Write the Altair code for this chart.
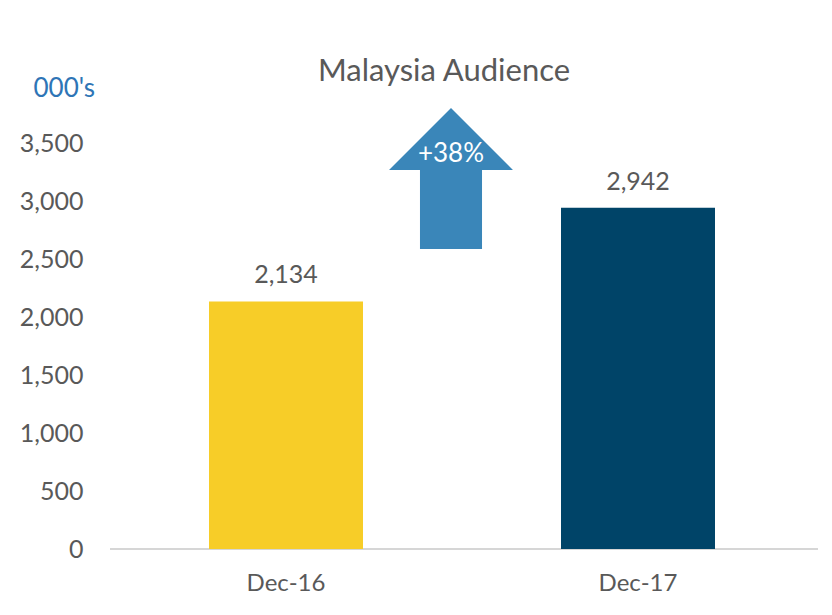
import altair as alt
import pandas as pd

periods = ["Dec-16", "Dec-17"]
audience = [2134, 2942]
bar_colors = ["#F7CD28", "#004468"]
y_ticks = [0, 500, 1000, 1500, 2000, 2500, 3000, 3500]
chart_title = "Malaysia Audience"
unit_label = "000's"

growth = audience[1] / audience[0] - 1
growth_label = f"+{growth:.0%}"

df = pd.DataFrame({"period": periods, "audience": audience, "color": bar_colors})
ann = pd.DataFrame({"label": [growth_label]})

FONT = "Lato"
GRAY = "#595959"

x_enc = alt.X(
    "period:N",
    sort=periods,
    scale=alt.Scale(range=[0, 704], paddingInner=0.5625, paddingOuter=0.28125),
    axis=alt.Axis(title=None, labelAngle=0, domain=False, ticks=False,
                  labelFont=FONT, labelFontSize=24, labelColor=GRAY, labelPadding=22),
)
y_enc = alt.Y(
    "audience:Q",
    scale=alt.Scale(domain=[0, 4000], nice=False),
    axis=alt.Axis(values=y_ticks, format=",.0f", domain=False, ticks=False, grid=False,
                  labelPadding=27, labelFont=FONT, labelFontSize=25, labelColor=GRAY,
                  title=unit_label, titleAngle=0, titleAlign="left", titleBaseline="alphabetic",
                  titleX=-77, titleY=11, titleColor="#2E75B6", titleFont=FONT,
                  titleFontSize=26, titleFontWeight="normal"),
)

base = alt.Chart(df)
bars = base.mark_bar().encode(x=x_enc, y=y_enc, color=alt.Color("color:N", scale=None))
labels = base.mark_text(dy=-18, baseline="alphabetic", font=FONT, fontSize=25, color=GRAY).encode(
    x=alt.X("period:N", sort=periods), y="audience:Q", text=alt.Text("audience:Q", format=",.0f")
)
baseline = alt.Chart(ann).mark_rule(color="#C8C8C8", strokeWidth=1.5).encode(y=alt.datum(0))

arrow_path = "M0,-1 L0.879,-0.121 L0.44,-0.121 L0.44,1 L-0.44,1 L-0.44,-0.121 L-0.879,-0.121 Z"
arrow = alt.Chart(ann).mark_point(shape=arrow_path, size=19881, filled=True, color="#3A86B9",
                                  opacity=1, strokeWidth=0).encode(
    x=alt.value(341), y=alt.datum(3194)
)
arrow_text = alt.Chart(ann).mark_text(font=FONT, fontSize=26, color="white", baseline="alphabetic").encode(
    x=alt.value(341), y=alt.datum(3336), text="label:N"
)

chart = alt.layer(baseline, bars, labels, arrow, arrow_text).properties(
    width=708, height=464,
    title=alt.TitleParams(chart_title, font=FONT, fontSize=31, color=GRAY, fontWeight="normal",
                          anchor="middle", baseline="alphabetic", offset=0, dy=37, dx=-20),
    autosize=alt.AutoSizeParams(type="none"),
    padding={"left": 102, "top": 77, "right": 6, "bottom": 58},
    background="white",
).configure_view(stroke=None)

chart.save("out.html", embed_options={"renderer": "svg", "actions": False})
